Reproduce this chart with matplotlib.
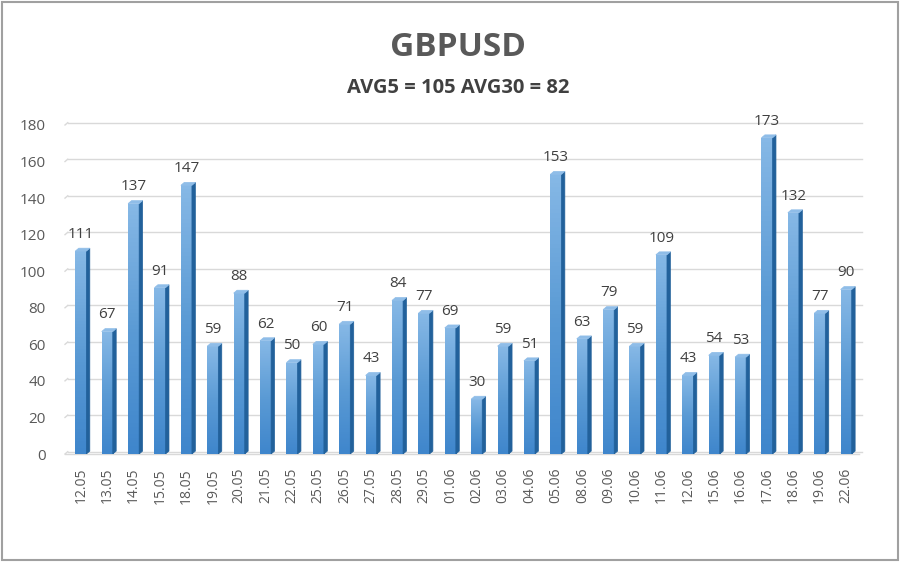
import numpy as np
import matplotlib
matplotlib.use('Agg')
import matplotlib.pyplot as plt
from matplotlib.patches import Polygon, Rectangle

dates = ['12.05', '13.05', '14.05', '15.05', '18.05', '19.05', '20.05', '21.05', '22.05',
         '25.05', '26.05', '27.05', '28.05', '29.05', '01.06', '02.06', '03.06', '04.06',
         '05.06', '08.06', '09.06', '10.06', '11.06', '12.06', '15.06', '16.06', '17.06',
         '18.06', '19.06', '22.06']
values = [111, 67, 137, 91, 147, 59, 88, 62, 50, 60, 71, 43, 84, 77, 69, 30, 59, 51,
          153, 63, 79, 59, 109, 43, 54, 53, 173, 132, 77, 90]

plt.rcParams['font.family'] = ['Open Sans', 'DejaVu Sans']

fig = plt.figure(figsize=(9, 5.62), dpi=100)
ax = fig.add_axes([65 / 900, 108 / 562, 797 / 900, 329 / 562])

n = len(values)
x = np.arange(n)
w = 0.42
dx = 0.13
dy = 1.6

ax.set_xlim(-0.6, n - 0.4)
ax.set_ylim(0, 180)

# back wall gridlines with a small perspective stub on the left
for yv in range(0, 181, 20):
    ax.plot([-0.6 + dx * 0.8, n - 0.4], [yv + dy * 0.8, yv + dy * 0.8], color='#d9d9d9', lw=1,
            zorder=0, clip_on=False)
    ax.plot([-0.6, -0.6 + dx * 0.8], [yv, yv + dy * 0.8], color='#d9d9d9', lw=1, zorder=0,
            clip_on=False)
ax.plot([-0.6, n - 0.4 - dx * 0.8], [0, 0], color='#d9d9d9', lw=1, zorder=0, clip_on=False)

grad = np.linspace(0, 1, 64).reshape(-1, 1)
cmap = matplotlib.colors.LinearSegmentedColormap.from_list('b', ['#3f86cc', '#5b9bd5', '#86b8e6'])

for xi, v in zip(x, values):
    l, r = xi - w / 2, xi + w / 2
    front = Rectangle((l, 0), w, v, facecolor='none', edgecolor='none')
    ax.add_patch(front)
    im = ax.imshow(grad, cmap=cmap, extent=(l, r, 0, v), aspect='auto', origin='lower', zorder=2)
    im.set_clip_path(front)
    side = Polygon([(r, 0), (r + dx, dy), (r + dx, v + dy), (r, v)], closed=True,
                   facecolor='#22619b', edgecolor='#22619b', lw=0.5, zorder=2)
    ax.add_patch(side)
    top = Polygon([(l, v), (r, v), (r + dx, v + dy), (l + dx, v + dy)], closed=True,
                  facecolor='#8fbde8', edgecolor='#8fbde8', lw=0.5, zorder=2)
    ax.add_patch(top)
    ax.text(xi, v + 5, str(v), ha='center', va='bottom', fontsize=11, color='#404040', zorder=3)

ax.set_xticks(x)
ax.set_xticklabels(dates, rotation=90, fontsize=10, color='#595959')
ax.set_yticks(range(0, 181, 20))
ax.tick_params(axis='y', labelsize=11, labelcolor='#595959', length=0, pad=14)
ax.tick_params(axis='x', length=0, pad=10)
for s in ax.spines.values():
    s.set_visible(False)

fig.text(458 / 900, 1 - 48 / 562, 'GBPUSD', ha='center', va='center', fontsize=24,
         fontweight='bold', color='#595959')
fig.text(458 / 900, 1 - 88 / 562, 'AVG5 = 105 AVG30 = 82', ha='center', va='center',
         fontsize=14.5, fontweight='bold', color='#404040')

fig.add_artist(Rectangle((0.002, 0.003), 0.996, 0.994, transform=fig.transFigure, fill=False,
                         edgecolor='#a0a0a0', lw=1.5))

fig.savefig('out.png', dpi=100)
